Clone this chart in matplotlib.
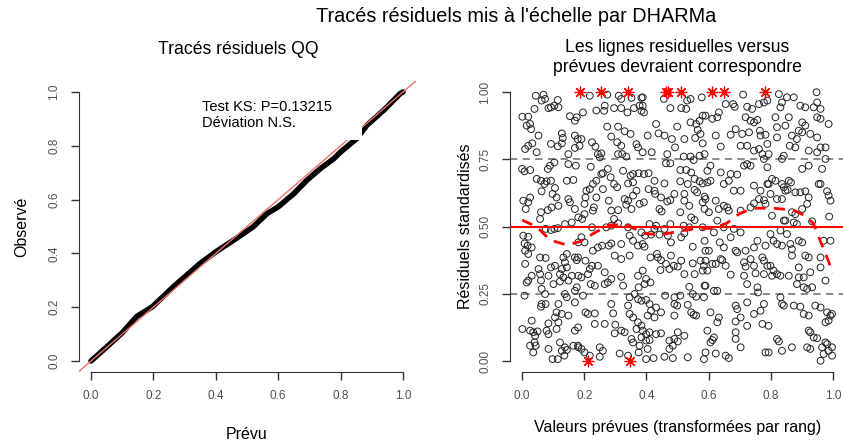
import numpy as np
import matplotlib
matplotlib.use("Agg")
import matplotlib.pyplot as plt
from matplotlib.patches import Rectangle

plt.rcParams['font.family'] = ['Liberation Sans', 'DejaVu Sans']

# --- QQ plot (expected vs observed quantiles) ---
qq_expected = [0, 0.05, 0.10, 0.146, 0.197, 0.264, 0.35, 0.40, 0.457, 0.52, 0.564,
               0.60, 0.65, 0.692, 0.735, 0.778, 0.80, 0.852, 0.884, 0.938, 0.991, 1.0]
qq_observed = [0, 0.052, 0.105, 0.165, 0.202, 0.276, 0.363, 0.406, 0.449, 0.499, 0.548,
               0.573, 0.622, 0.672, 0.715, 0.752, 0.777, 0.827, 0.876, 0.932, 0.994, 1.0]
ks_text = ["Test KS: P=0.13215", "Déviation N.S."]

# --- residuals vs predicted (per mille: rank-transformed prediction, scaled residual) ---
res_a = [(44,986),(69,990),(74,974),(63,968),(115,970),(40,937),(85,940),(93,943),(104,949),(117,943),(1,908),(20,908),(154,910),(176,906),(15,875),(26,881),(170,893),(29,862),(128,846),(53,838),(131,829),(170,838),(179,825),(128,809),(20,800),(33,809),(10,788),(93,807),(115,798),(170,792),(47,776),(149,769),(0,714),(26,710),(8,705),(83,714),(90,726),(104,738),(149,732),(173,726),(47,677),(61,670),(79,668),(93,670),(144,670),(165,673),(72,658),(63,631),(106,643),(4,596),(26,608),(20,590),(98,621),(111,608),(149,602),(154,590),(12,565),(61,553),(83,561),(95,571),(117,577),(170,565),(58,528),(181,534),(138,509),(160,515),(76,491),(93,487),(104,491),(115,494),(4,466),(20,462),(8,437),(18,429),(31,422),(10,410),(20,398),(181,441),(144,398),(133,385),(58,385),(76,383),(170,385),(138,367),(176,375),(10,361),(53,342),(93,348),(106,354),(128,342),(144,348),(58,323),(85,317),(122,323),(133,311),(160,317),(181,317),(31,317),(20,299),(15,292),(61,299),(101,286),(122,296),(149,299),(176,274),(170,261),(63,268),(138,249),(8,243),(74,249),(144,237),(63,212),(76,212),(61,202),(117,212),(170,218),(111,181),(128,175),(149,169),(106,162),(117,144),(31,150),(85,140),(36,107),(50,110),(42,94),(26,113),(79,113),(85,100),(1,119),(111,119),(170,113),(26,57),(40,69),(44,57),(85,45),(122,69),(138,51),(128,38),(144,41),(165,57),(181,51),(36,32),(98,7),(115,7),(136,20)]
res_b = [(218,986),(274,990),(311,986),(319,974),(352,978),(384,978),(239,931),(266,949),(264,930),(296,940),(319,940),(339,924),(360,940),(378,949),(384,930),(196,924),(274,871),(309,871),(287,834),(330,854),(349,844),(191,825),(185,800),(225,813),(236,797),(306,813),(319,800),(368,806),(373,794),(244,769),(255,772),(250,757),(309,769),(322,769),(335,760),(221,722),(255,695),(260,698),(276,714),(285,683),(325,707),(349,689),(357,695),(375,698),(239,670),(228,658),(218,639),(207,633),(260,639),(296,658),(306,646),(341,660),(357,664),(368,633),(330,602),(341,596),(357,615),(204,608),(239,608),(201,584),(279,596),(287,559),(309,561),(335,581),(352,565),(378,584),(231,571),(228,559),(201,546),(193,528),(296,528),(309,512),(225,497),(271,497),(287,503),(341,497),(346,466),(384,478),(191,460),(201,441),(257,429),(244,422),(279,429),(287,437),(319,435),(373,429),(357,447),(228,410),(298,392),(319,379),(346,392),(204,373),(180,385),(225,354),(218,342),(244,354),(212,323),(266,330),(287,305),(319,313),(373,317),(191,311),(221,286),(234,280),(266,286),(276,292),(325,280),(375,274),(362,249),(196,243),(346,237),(373,230),(384,224),(287,212),(341,206),(204,181),(212,175),(234,177),(293,177),(346,175),(357,162),(373,144),(180,125),(234,138),(266,138),(300,135),(319,113),(330,107),(298,103),(384,131),(368,119),(352,82),(357,69),(384,88),(378,57),(180,57),(191,45),(201,32),(218,20),(250,51),(260,38),(250,16),(314,28),(341,20),(375,32)]
res_c = [(388,980),(456,974),(477,940),(512,940),(531,968),(542,974),(528,937),(578,980),(388,949),(392,924),(581,912),(571,893),(431,881),(499,871),(542,887),(560,881),(565,859),(574,844),(404,838),(439,846),(458,838),(482,825),(522,825),(557,829),(492,794),(581,809),(388,776),(417,776),(467,769),(520,760),(542,760),(552,747),(571,763),(587,769),(463,735),(477,735),(392,695),(407,698),(426,670),(458,660),(509,710),(528,710),(544,701),(555,677),(571,668),(581,660),(509,668),(533,658),(407,639),(426,633),(428,621),(447,608),(490,621),(522,621),(555,636),(563,627),(587,611),(392,590),(467,593),(477,598),(522,596),(538,577),(581,590),(442,565),(449,556),(509,553),(587,565),(544,534),(410,509),(426,491),(431,503),(458,491),(477,509),(520,503),(538,497),(555,524),(581,497),(396,466),(415,470),(442,470),(469,466),(512,460),(522,475),(388,435),(394,425),(479,441),(549,425),(587,447),(434,398),(413,385),(437,385),(447,375),(479,392),(463,361),(488,354),(501,351),(512,373),(549,363),(574,373),(585,354),(388,336),(445,338),(474,342),(522,323),(555,323),(581,336),(399,305),(413,292),(394,286),(538,276),(587,280),(460,243),(490,237),(509,243),(549,249),(560,239),(399,227),(410,212),(415,187),(431,199),(447,181),(490,212),(499,206),(533,209),(544,181),(552,172),(560,169),(585,237),(404,169),(426,162),(490,169),(388,113),(399,100),(410,107),(431,100),(447,103),(501,107),(522,94),(399,76),(410,78),(474,76),(490,82),(501,73),(485,57),(404,45),(474,45),(399,7),(423,11),(458,16),(485,11),(533,14),(585,7)]
res_d = [(711,990),(655,955),(679,955),(684,945),(724,945),(740,937),(762,955),(778,961),(789,968),(633,924),(628,906),(612,900),(719,906),(735,893),(746,887),(757,896),(590,912),(623,838),(671,841),(687,862),(708,844),(730,850),(765,856),(767,838),(783,841),(639,797),(703,800),(724,800),(746,782),(762,788),(789,807),(773,769),(778,751),(606,726),(596,707),(639,701),(671,695),(692,693),(714,726),(724,732),(735,726),(789,720),(596,664),(606,670),(649,658),(665,670),(681,633),(703,633),(746,652),(767,633),(789,658),(590,602),(623,596),(649,577),(660,571),(665,559),(703,559),(735,571),(746,586),(762,602),(778,598),(783,584),(633,565),(601,553),(628,522),(649,497),(681,491),(703,478),(617,478),(636,441),(649,422),(671,460),(590,410),(601,410),(639,379),(687,410),(692,404),(719,410),(746,422),(757,447),(783,429),(773,385),(590,373),(612,361),(623,361),(644,375),(655,354),(714,367),(719,351),(735,379),(746,354),(778,373),(789,354),(596,336),(671,321),(714,317),(751,326),(778,323),(590,280),(617,261),(628,261),(724,286),(757,274),(759,255),(687,206),(692,193),(724,218),(746,175),(767,187),(778,212),(606,181),(628,144),(633,162),(687,147),(703,162),(596,113),(687,107),(724,131),(773,138),(606,69),(612,78),(617,88),(687,82),(703,51),(590,32),(623,28),(655,20),(665,11),(783,32)]
res_e = [(826,992),(852,980),(874,980),(947,999),(949,961),(895,949),(911,943),(938,943),(960,937),(831,943),(836,961),(815,906),(858,906),(949,906),(960,900),(986,881),(901,887),(911,875),(847,875),(820,869),(890,856),(901,850),(868,838),(884,825),(927,844),(949,831),(820,831),(861,800),(879,794),(922,782),(960,794),(976,794),(793,769),(836,751),(842,763),(949,776),(976,751),(922,726),(901,714),(965,714),(804,677),(815,670),(793,658),(836,658),(842,646),(858,670),(865,664),(847,633),(854,636),(960,658),(954,658),(895,627),(911,631),(879,627),(981,631),(986,615),(992,596),(799,621),(820,602),(836,602),(922,608),(917,584),(901,565),(868,553),(879,546),(847,522),(804,540),(842,522),(874,515),(884,509),(933,519),(988,537),(799,472),(809,447),(820,435),(836,429),(863,435),(890,447),(901,441),(852,472),(831,485),(992,447),(970,447),(868,416),(868,392),(911,392),(922,385),(960,385),(799,354),(809,336),(820,323),(831,317),(804,317),(890,348),(858,317),(890,311),(906,311),(927,330),(960,348),(976,299),(884,286),(906,274),(917,268),(933,274),(831,237),(836,212),(874,206),(895,202),(842,206),(943,206),(960,199),(981,181),(992,169),(986,150),(976,144),(997,175),(906,175),(922,169),(793,131),(922,113),(927,107),(938,88),(949,85),(820,82),(826,73),(868,51),(917,51),(927,45),(965,51),(976,69),(981,63),(986,38),(997,51),(997,20),(970,26),(793,32),(836,38),(960,1)]

# outliers (asterisks) at the edges
out_top_x = [0.186, 0.253, 0.341, 0.462, 0.469, 0.511, 0.610, 0.650, 0.781]
out_bot_x = [0.211, 0.347]

# median quantile spline (dashed red)
q50_x = [0, 0.047, 0.090, 0.144, 0.186, 0.240, 0.283, 0.337, 0.390, 0.444, 0.497, 0.562,
         0.615, 0.658, 0.701, 0.744, 0.808, 0.872, 0.905, 0.937, 0.958, 0.980, 1.0]
q50_y = [0.524, 0.499, 0.450, 0.431, 0.444, 0.481, 0.506, 0.506, 0.475, 0.468, 0.481, 0.493,
         0.493, 0.512, 0.549, 0.568, 0.568, 0.561, 0.543, 0.512, 0.450, 0.388, 0.326]

W, H = 843, 442
fig = plt.figure(figsize=(W / 100, H / 100), dpi=100)

ax1 = fig.add_axes([78.5 / W, 1 - 371.8 / H, 337 / W, 290.6 / H])
ax2 = fig.add_axes([509.6 / W, 1 - 371.8 / H, 335.8 / W, 290.6 / H])

axcol = '#333333'
for ax in (ax1, ax2):
    ax.set_xlim(-0.04, 1.04)
    ax.set_ylim(-0.04, 1.04)
    ax.spines['top'].set_visible(False)
    ax.spines['right'].set_visible(False)
    ax.spines['left'].set_bounds(0, 1)
    ax.spines['bottom'].set_bounds(0, 1)
    ax.spines['left'].set_color(axcol)
    ax.spines['bottom'].set_color(axcol)
    ax.tick_params(direction='out', length=6, width=1, color=axcol,
                   labelsize=8.5, labelcolor='#505050', pad=7)
    ax.set_xticks([0, 0.2, 0.4, 0.6, 0.8, 1.0])
    ax.set_xticklabels(["0.0", "0.2", "0.4", "0.6", "0.8", "1.0"])

# left panel
ax1.set_yticks([0, 0.2, 0.4, 0.6, 0.8, 1.0])
ax1.set_yticklabels(["0.0", "0.2", "0.4", "0.6", "0.8", "1.0"], rotation=90, va='center')
ax1.plot(qq_expected, qq_observed, color='black', lw=4, solid_capstyle='round',
         solid_joinstyle='round', zorder=2)
ax1.plot([-0.04, 1.04], [-0.04, 1.04], color='#f07070', lw=1, zorder=3)
ax1.add_patch(Rectangle((0.34, 0.822), 0.528, 0.25, facecolor='white',
                        edgecolor='none', zorder=4, clip_on=False))
ax1.text(0.355, 0.945, ks_text[0], fontsize=10.5, va='center', zorder=5)
ax1.text(0.355, 0.884, ks_text[1], fontsize=10.5, va='center', zorder=5)
ax1.set_xlabel("Prévu", fontsize=11.5, labelpad=18)
ax1.set_ylabel("Observé", fontsize=11.5, labelpad=14)

# right panel
ax2.set_yticks([0, 0.25, 0.5, 0.75, 1.0])
ax2.set_yticklabels(["0.00", "0.25", "0.50", "0.75", "1.00"], rotation=90, va='center')
allres = res_a + res_b + res_c + res_d + res_e
px = np.array([p[0] for p in allres]) / 1000
py = np.array([p[1] for p in allres]) / 1000
ax2.scatter(px, py, s=24, facecolors='none', edgecolors='#222222', linewidths=0.7, zorder=3)
for yv in (0.25, 0.75):
    ax2.axhline(yv, color='#808080', lw=1.3, ls=(0, (4, 3)), zorder=2, clip_on=False)
ax2.axhline(0.5, color='red', lw=1.5, zorder=4)
ax2.plot(q50_x, q50_y, color='red', lw=2, ls=(0, (4, 3)), zorder=4)
ax2.scatter(out_top_x, [1.0] * len(out_top_x), marker=(8, 2, 0), s=60, color='red',
            linewidths=0.9, zorder=5)
ax2.scatter(out_bot_x, [0.0] * len(out_bot_x), marker=(8, 2, 0), s=60, color='red',
            linewidths=0.9, zorder=5)
ax2.set_xlabel("Valeurs prévues (transformées par rang)", fontsize=11.5, labelpad=13)
ax2.set_ylabel("Résiduels standardisés", fontsize=11.5, labelpad=5)

# titles
fig.text(516 / W, 1 - 16 / H, "Tracés résiduels mis à l'échelle par DHARMa",
         ha='center', va='center', fontsize=14.3)
fig.text(238 / W, 1 - 50 / H, "Tracés résiduels QQ", ha='center', va='center', fontsize=12.7)
fig.text(677 / W, 1 - 47 / H, "Les lignes residuelles versus", ha='center', va='center',
         fontsize=12.7)
fig.text(677 / W, 1 - 68 / H, "prévues devraient correspondre", ha='center', va='center',
         fontsize=12.7)

fig.savefig("out.png", dpi=100)
